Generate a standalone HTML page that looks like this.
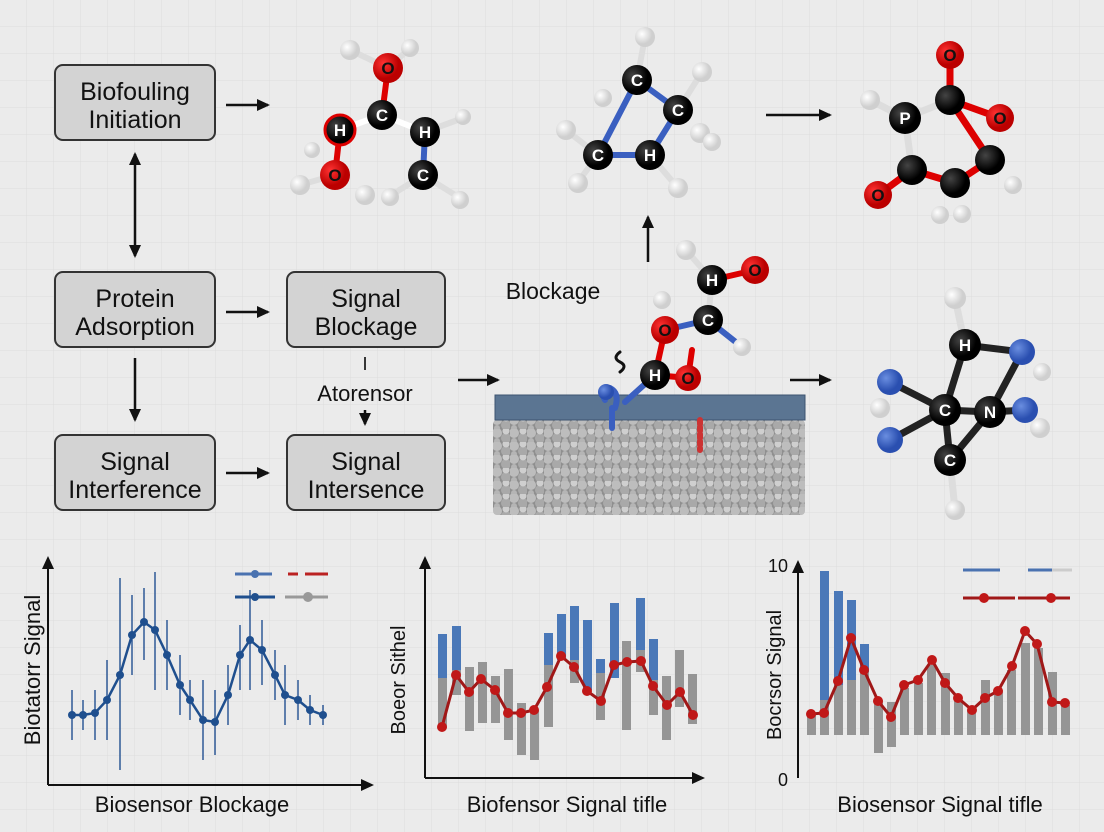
<!DOCTYPE html>
<html><head><meta charset="utf-8"><style>
html,body{margin:0;padding:0;background:#ebebeb}
svg{display:block}
text{font-family:"Liberation Sans",sans-serif;fill:#111}
.w{fill:#fff}
</style></head><body>
<svg width="1104" height="832" viewBox="0 0 1104 832" xmlns="http://www.w3.org/2000/svg">
<defs>
<pattern id="g" width="27" height="27" patternUnits="userSpaceOnUse"><path d="M27 0V27H0" fill="none" stroke="#dcdcdc" stroke-width="1"/></pattern>
<marker id="ah" markerWidth="14" markerHeight="12" refX="11" refY="6" orient="auto" markerUnits="userSpaceOnUse"><path d="M0,0 L13,6 L0,12 z" fill="#111"/></marker>
<radialGradient id="gw" cx="35%" cy="35%"><stop offset="0" stop-color="#fff"/><stop offset="1" stop-color="#cfcfcf"/></radialGradient>
<radialGradient id="gr" cx="35%" cy="35%"><stop offset="0" stop-color="#f33"/><stop offset="1" stop-color="#b00"/></radialGradient>
<radialGradient id="gb" cx="35%" cy="35%"><stop offset="0" stop-color="#6a8ee0"/><stop offset="1" stop-color="#2a4fb0"/></radialGradient>
<radialGradient id="gk" cx="35%" cy="35%"><stop offset="0" stop-color="#444"/><stop offset="1" stop-color="#000"/></radialGradient>
<pattern id="pb" width="17" height="13" patternUnits="userSpaceOnUse"><rect width="17" height="13" fill="#8f8f8f"/><circle cx="4" cy="4" r="5" fill="#bdbdbd"/><circle cx="13" cy="9" r="5" fill="#a9a9a9"/><circle cx="13" cy="2" r="3.5" fill="#cfcfcf"/><circle cx="4" cy="12" r="3" fill="#b5b5b5"/></pattern>
</defs>
<rect width="1104" height="832" fill="#ebebeb"/>
<rect width="1104" height="832" fill="url(#g)"/>

<g stroke="#333" stroke-width="2" fill="#d3d3d3">
<rect x="55" y="65" width="160" height="75" rx="8"/>
<rect x="55" y="272" width="160" height="75" rx="8"/>
<rect x="287" y="272" width="158" height="75" rx="8"/>
<rect x="55" y="435" width="160" height="75" rx="8"/>
<rect x="287" y="435" width="158" height="75" rx="8"/>
</g>
<g font-size="25" text-anchor="middle">
<text x="135" y="100">Biofouling</text><text x="135" y="128">Initiation</text>
<text x="135" y="307">Protein</text><text x="135" y="335">Adsorption</text>
<text x="366" y="307">Signal</text><text x="366" y="335">Blockage</text>
<text x="135" y="470">Signal</text><text x="135" y="498">Interference</text>
<text x="366" y="470">Signal</text><text x="366" y="498">Intersence</text>
<text x="365" y="401" font-size="22">Atorensor</text>
<text x="365" y="370" font-size="18">I</text>
<text x="553" y="299" font-size="23">Blockage</text>
</g>

<g stroke="#111" stroke-width="2.5" fill="none" marker-end="url(#ah)">
<line x1="226" y1="105" x2="268" y2="105"/>
<line x1="135" y1="200" x2="135" y2="256"/>
<line x1="135" y1="200" x2="135" y2="154"/>
<line x1="226" y1="312" x2="268" y2="312"/>
<line x1="135" y1="358" x2="135" y2="420"/>
<line x1="226" y1="473" x2="268" y2="473"/>
<line x1="365" y1="410" x2="365" y2="424"/>
<line x1="458" y1="380" x2="498" y2="380"/>
<line x1="648" y1="262" x2="648" y2="217"/>
<line x1="766" y1="115" x2="830" y2="115"/>
<line x1="790" y1="380" x2="830" y2="380"/>
</g>

<rect x="493" y="420" width="312" height="95" fill="url(#pb)" rx="4"/>
<rect x="495" y="395" width="310" height="25" fill="#5b7592" stroke="#3d5470"/>

<g stroke-width="6" stroke-linecap="round">
<line x1="388" y1="68" x2="382" y2="115" stroke="#d00"/>
<line x1="382" y1="115" x2="340" y2="130" stroke="#fff"/>
<line x1="382" y1="115" x2="425" y2="132" stroke="#fff"/>
<line x1="340" y1="130" x2="335" y2="175" stroke="#d00"/>
<line x1="425" y1="132" x2="423" y2="175" stroke="#3a5fc0"/>
<line x1="388" y1="68" x2="350" y2="50" stroke="#ddd"/>
<line x1="388" y1="68" x2="410" y2="48" stroke="#ddd"/>
<line x1="335" y1="175" x2="300" y2="185" stroke="#ddd"/>
<line x1="423" y1="175" x2="390" y2="196" stroke="#ddd"/>
<line x1="423" y1="175" x2="460" y2="198" stroke="#ddd"/>
<line x1="425" y1="132" x2="463" y2="118" stroke="#ddd"/>
</g>
<circle cx="350" cy="50" r="10" fill="url(#gw)"/><circle cx="410" cy="48" r="9" fill="url(#gw)"/>
<circle cx="300" cy="185" r="10" fill="url(#gw)"/><circle cx="365" cy="195" r="10" fill="url(#gw)"/>
<circle cx="390" cy="197" r="9" fill="url(#gw)"/><circle cx="460" cy="200" r="9" fill="url(#gw)"/>
<circle cx="463" cy="117" r="8" fill="url(#gw)"/><circle cx="312" cy="150" r="8" fill="url(#gw)"/>
<circle cx="388" cy="68" r="15" fill="url(#gr)"/>
<circle cx="382" cy="115" r="15" fill="url(#gk)"/>
<circle cx="340" cy="130" r="15" fill="url(#gk)" stroke="#d00" stroke-width="3"/>
<circle cx="425" cy="132" r="15" fill="url(#gk)"/>
<circle cx="335" cy="175" r="15" fill="url(#gr)"/>
<circle cx="423" cy="175" r="15" fill="url(#gk)"/>
<g font-size="17" font-weight="bold" text-anchor="middle">
<text x="388" y="74">O</text><text x="382" y="121" class="w">C</text><text x="340" y="136" class="w">H</text>
<text x="425" y="138" class="w">H</text><text x="335" y="181">O</text><text x="423" y="181" class="w">C</text>
</g>

<g stroke-width="6" stroke-linecap="round">
<line x1="637" y1="80" x2="678" y2="110" stroke="#3a5fc0"/>
<line x1="678" y1="110" x2="650" y2="155" stroke="#3a5fc0"/>
<line x1="650" y1="155" x2="598" y2="155" stroke="#3a5fc0"/>
<line x1="637" y1="80" x2="598" y2="155" stroke="#3a5fc0"/>
<line x1="637" y1="80" x2="645" y2="37" stroke="#ddd"/>
<line x1="678" y1="110" x2="702" y2="72" stroke="#ddd"/>
<line x1="598" y1="155" x2="566" y2="130" stroke="#ddd"/>
<line x1="598" y1="155" x2="578" y2="182" stroke="#ddd"/>
<line x1="650" y1="155" x2="678" y2="188" stroke="#ddd"/>
</g>
<circle cx="645" cy="37" r="10" fill="url(#gw)"/><circle cx="603" cy="98" r="9" fill="url(#gw)"/>
<circle cx="702" cy="72" r="10" fill="url(#gw)"/><circle cx="700" cy="133" r="10" fill="url(#gw)"/>
<circle cx="712" cy="142" r="9" fill="url(#gw)"/><circle cx="566" cy="130" r="10" fill="url(#gw)"/>
<circle cx="578" cy="183" r="10" fill="url(#gw)"/><circle cx="678" cy="188" r="10" fill="url(#gw)"/>
<circle cx="637" cy="80" r="15" fill="url(#gk)"/><circle cx="678" cy="110" r="15" fill="url(#gk)"/>
<circle cx="650" cy="155" r="15" fill="url(#gk)"/><circle cx="598" cy="155" r="15" fill="url(#gk)"/>
<g font-size="17" font-weight="bold" text-anchor="middle">
<text x="637" y="86" class="w">C</text><text x="678" y="116" class="w">C</text>
<text x="650" y="161" class="w">H</text><text x="598" y="161" class="w">C</text>
</g>

<g stroke-width="7" stroke-linecap="round">
<line x1="905" y1="118" x2="950" y2="100" stroke="#ddd"/>
<line x1="950" y1="100" x2="950" y2="55" stroke="#d00"/>
<line x1="950" y1="100" x2="990" y2="160" stroke="#d00"/>
<line x1="950" y1="100" x2="1000" y2="118" stroke="#d00"/>
<line x1="990" y1="160" x2="955" y2="183" stroke="#d00"/>
<line x1="955" y1="183" x2="912" y2="170" stroke="#d00"/>
<line x1="912" y1="170" x2="905" y2="118" stroke="#ddd"/>
<line x1="912" y1="170" x2="878" y2="195" stroke="#d00"/>
<line x1="905" y1="118" x2="870" y2="100" stroke="#ddd"/>
</g>
<circle cx="870" cy="100" r="10" fill="url(#gw)"/><circle cx="940" cy="215" r="9" fill="url(#gw)"/>
<circle cx="962" cy="214" r="9" fill="url(#gw)"/><circle cx="1013" cy="185" r="9" fill="url(#gw)"/>
<circle cx="950" cy="55" r="14" fill="url(#gr)"/><circle cx="1000" cy="118" r="14" fill="url(#gr)"/>
<circle cx="878" cy="195" r="14" fill="url(#gr)"/>
<circle cx="905" cy="118" r="16" fill="url(#gk)"/><circle cx="950" cy="100" r="15" fill="url(#gk)"/>
<circle cx="990" cy="160" r="15" fill="url(#gk)"/><circle cx="955" cy="183" r="15" fill="url(#gk)"/>
<circle cx="912" cy="170" r="15" fill="url(#gk)"/>
<g font-size="17" font-weight="bold" text-anchor="middle">
<text x="905" y="124" class="w">P</text><text x="950" y="61">O</text><text x="1000" y="124">O</text><text x="878" y="201">O</text>
</g>

<g stroke-width="6" stroke-linecap="round" fill="none">
<line x1="712" y1="280" x2="755" y2="270" stroke="#d00"/>
<line x1="712" y1="280" x2="708" y2="320" stroke="#ddd"/>
<line x1="708" y1="320" x2="665" y2="330" stroke="#3a5fc0"/>
<line x1="708" y1="320" x2="742" y2="347" stroke="#3a5fc0"/>
<line x1="665" y1="330" x2="655" y2="375" stroke="#d00"/>
<line x1="655" y1="375" x2="688" y2="378" stroke="#d00"/>
<line x1="688" y1="378" x2="692" y2="350" stroke="#d00"/>
<line x1="655" y1="375" x2="625" y2="402" stroke="#3a5fc0"/>
<line x1="712" y1="280" x2="686" y2="250" stroke="#ddd"/>
<path d="M605 400 q-8 -15 5 -12 q10 5 5 20" stroke="#3a5fc0"/>
<path d="M612 408 v20" stroke="#3a5fc0"/>
<path d="M700 420 v30" stroke="#c33" stroke-dasharray="4 3"/>
<path d="M620 352 q-8 6 0 10 q8 4 0 10" stroke="#111" stroke-width="3"/>
</g>
<circle cx="686" cy="250" r="10" fill="url(#gw)"/><circle cx="742" cy="347" r="9" fill="url(#gw)"/>
<circle cx="662" cy="300" r="9" fill="url(#gw)"/>
<circle cx="606" cy="392" r="8" fill="url(#gb)"/>
<circle cx="755" cy="270" r="14" fill="url(#gr)"/><circle cx="665" cy="330" r="14" fill="url(#gr)"/>
<circle cx="688" cy="378" r="13" fill="url(#gr)"/>
<circle cx="712" cy="280" r="15" fill="url(#gk)"/><circle cx="708" cy="320" r="15" fill="url(#gk)"/>
<circle cx="655" cy="375" r="15" fill="url(#gk)"/>
<g font-size="17" font-weight="bold" text-anchor="middle">
<text x="712" y="286" class="w">H</text><text x="755" y="276">O</text><text x="708" y="326" class="w">C</text>
<text x="665" y="336">O</text><text x="655" y="381" class="w">H</text><text x="688" y="384">O</text>
</g>

<g stroke-width="7" stroke-linecap="round">
<line x1="965" y1="345" x2="945" y2="410" stroke="#222"/>
<line x1="965" y1="345" x2="1022" y2="352" stroke="#222"/>
<line x1="945" y1="410" x2="990" y2="412" stroke="#222"/>
<line x1="945" y1="410" x2="950" y2="460" stroke="#222"/>
<line x1="990" y1="412" x2="950" y2="460" stroke="#222"/>
<line x1="1022" y1="352" x2="990" y2="412" stroke="#222"/>
<line x1="990" y1="412" x2="1025" y2="410" stroke="#222"/>
<line x1="945" y1="410" x2="890" y2="382" stroke="#222"/>
<line x1="945" y1="410" x2="890" y2="440" stroke="#222"/>
<line x1="965" y1="345" x2="955" y2="298" stroke="#ddd"/>
<line x1="950" y1="460" x2="955" y2="510" stroke="#ddd"/>
</g>
<circle cx="955" cy="298" r="11" fill="url(#gw)"/><circle cx="880" cy="408" r="10" fill="url(#gw)"/>
<circle cx="1040" cy="428" r="10" fill="url(#gw)"/><circle cx="955" cy="510" r="10" fill="url(#gw)"/>
<circle cx="1042" cy="372" r="9" fill="url(#gw)"/>
<circle cx="890" cy="382" r="13" fill="url(#gb)"/><circle cx="1022" cy="352" r="13" fill="url(#gb)"/>
<circle cx="1025" cy="410" r="13" fill="url(#gb)"/><circle cx="890" cy="440" r="13" fill="url(#gb)"/>
<circle cx="965" cy="345" r="16" fill="url(#gk)"/><circle cx="945" cy="410" r="16" fill="url(#gk)"/>
<circle cx="990" cy="412" r="16" fill="url(#gk)"/><circle cx="950" cy="460" r="16" fill="url(#gk)"/>
<g font-size="17" font-weight="bold" text-anchor="middle">
<text x="965" y="351" class="w">H</text><text x="945" y="416" class="w">C</text>
<text x="990" y="418" class="w">N</text><text x="950" y="466" class="w">C</text>
</g>

<g stroke="#111" stroke-width="2" fill="none">
<line x1="48" y1="785" x2="48" y2="558" marker-end="url(#ah)"/>
<line x1="48" y1="785" x2="372" y2="785" marker-end="url(#ah)"/>
</g>
<text x="40" y="670" font-size="22" text-anchor="middle" transform="rotate(-90 40 670)">Biotatorr Signal</text>
<text x="192" y="812" font-size="22" text-anchor="middle">Biosensor Blockage</text>
<g stroke="#2e5a96" stroke-width="1.5">
<line x1="72" y1="690" x2="72" y2="740"/><line x1="83" y1="700" x2="83" y2="730"/><line x1="95" y1="690" x2="95" y2="740"/>
<line x1="107" y1="660" x2="107" y2="740"/><line x1="120" y1="578" x2="120" y2="770"/><line x1="132" y1="595" x2="132" y2="675"/>
<line x1="144" y1="588" x2="144" y2="660"/><line x1="155" y1="572" x2="155" y2="690"/><line x1="167" y1="620" x2="167" y2="690"/>
<line x1="180" y1="655" x2="180" y2="715"/><line x1="190" y1="680" x2="190" y2="720"/><line x1="203" y1="680" x2="203" y2="760"/>
<line x1="215" y1="690" x2="215" y2="755"/><line x1="228" y1="665" x2="228" y2="725"/><line x1="240" y1="625" x2="240" y2="690"/>
<line x1="250" y1="590" x2="250" y2="690"/><line x1="262" y1="620" x2="262" y2="685"/><line x1="275" y1="650" x2="275" y2="700"/>
<line x1="285" y1="665" x2="285" y2="725"/><line x1="298" y1="680" x2="298" y2="720"/><line x1="310" y1="695" x2="310" y2="725"/>
<line x1="323" y1="705" x2="323" y2="725"/>
</g>
<polyline fill="none" stroke="#1f4f8e" stroke-width="2.5" points="72,715 83,715 95,713 107,700 120,675 132,635 144,622 155,630 167,655 180,685 190,700 203,720 215,722 228,695 240,655 250,640 262,650 275,675 285,695 298,700 310,710 323,715"/>
<g fill="#1f4f8e">
<circle cx="72" cy="715" r="4"/><circle cx="83" cy="715" r="4"/><circle cx="95" cy="713" r="4"/><circle cx="107" cy="700" r="4"/><circle cx="120" cy="675" r="4"/><circle cx="132" cy="635" r="4"/><circle cx="144" cy="622" r="4"/><circle cx="155" cy="630" r="4"/><circle cx="167" cy="655" r="4"/><circle cx="180" cy="685" r="4"/><circle cx="190" cy="700" r="4"/><circle cx="203" cy="720" r="4"/><circle cx="215" cy="722" r="4"/><circle cx="228" cy="695" r="4"/><circle cx="240" cy="655" r="4"/><circle cx="250" cy="640" r="4"/><circle cx="262" cy="650" r="4"/><circle cx="275" cy="675" r="4"/><circle cx="285" cy="695" r="4"/><circle cx="298" cy="700" r="4"/><circle cx="310" cy="710" r="4"/><circle cx="323" cy="715" r="4"/>
</g>
<g stroke-width="3">
<line x1="235" y1="574" x2="272" y2="574" stroke="#4a72b0"/><circle cx="255" cy="574" r="4" fill="#4a72b0"/>
<line x1="288" y1="574" x2="298" y2="574" stroke="#b22"/><line x1="305" y1="574" x2="328" y2="574" stroke="#b22"/>
<line x1="235" y1="597" x2="275" y2="597" stroke="#1f4f8e"/><circle cx="255" cy="597" r="4" fill="#1f4f8e"/>
<line x1="285" y1="597" x2="328" y2="597" stroke="#999"/><circle cx="308" cy="597" r="5" fill="#999"/>
</g>

<g stroke="#111" stroke-width="2" fill="none">
<line x1="425" y1="778" x2="425" y2="558" marker-end="url(#ah)"/>
<line x1="425" y1="778" x2="703" y2="778" marker-end="url(#ah)"/>
</g>
<text x="405" y="680" font-size="20" text-anchor="middle" transform="rotate(-90 405 680)">Boeor Sithel</text>
<text x="567" y="812" font-size="22" text-anchor="middle">Biofensor Signal tifle</text>
<g fill="#959595">
<rect x="438" y="678" width="9" height="50"/><rect x="452" y="670" width="9" height="25"/><rect x="465" y="667" width="9" height="64"/>
<rect x="478" y="662" width="9" height="61"/><rect x="491" y="676" width="9" height="47"/><rect x="504" y="669" width="9" height="71"/>
<rect x="517" y="703" width="9" height="52"/><rect x="530" y="710" width="9" height="50"/><rect x="544" y="665" width="9" height="62"/>
<rect x="570" y="660" width="9" height="23"/><rect x="596" y="673" width="9" height="47"/><rect x="622" y="641" width="9" height="89"/>
<rect x="636" y="650" width="9" height="22"/><rect x="649" y="680" width="9" height="35"/><rect x="662" y="676" width="9" height="64"/>
<rect x="675" y="650" width="9" height="57"/><rect x="688" y="674" width="9" height="50"/>
</g>
<g fill="#4a78b8">
<rect x="438" y="634" width="9" height="44"/><rect x="452" y="626" width="9" height="44"/><rect x="544" y="633" width="9" height="32"/>
<rect x="557" y="614" width="9" height="46"/><rect x="570" y="606" width="9" height="54"/><rect x="583" y="620" width="9" height="70"/>
<rect x="596" y="659" width="9" height="14"/><rect x="610" y="603" width="9" height="75"/><rect x="636" y="598" width="9" height="52"/>
<rect x="649" y="639" width="9" height="41"/>
</g>
<polyline fill="none" stroke="#a01818" stroke-width="3" points="442,727 456,675 469,692 481,679 495,690 508,713 521,713 534,710 547,687 561,656 574,667 587,691 601,701 614,665 627,662 641,661 653,686 667,705 680,692 693,715"/>
<g fill="#c01818">
<circle cx="442" cy="727" r="5"/><circle cx="456" cy="675" r="5"/><circle cx="469" cy="692" r="5"/><circle cx="481" cy="679" r="5"/><circle cx="495" cy="690" r="5"/><circle cx="508" cy="713" r="5"/><circle cx="521" cy="713" r="5"/><circle cx="534" cy="710" r="5"/><circle cx="547" cy="687" r="5"/><circle cx="561" cy="656" r="5"/><circle cx="574" cy="667" r="5"/><circle cx="587" cy="691" r="5"/><circle cx="601" cy="701" r="5"/><circle cx="614" cy="665" r="5"/><circle cx="627" cy="662" r="5"/><circle cx="641" cy="661" r="5"/><circle cx="653" cy="686" r="5"/><circle cx="667" cy="705" r="5"/><circle cx="680" cy="692" r="5"/><circle cx="693" cy="715" r="5"/>
</g>

<g stroke="#111" stroke-width="2" fill="none">
<line x1="798" y1="778" x2="798" y2="562" marker-end="url(#ah)"/>
</g>
<text x="778" y="572" font-size="18" text-anchor="middle">10</text>
<text x="783" y="786" font-size="18" text-anchor="middle">0</text>
<text x="781" y="675" font-size="20" text-anchor="middle" transform="rotate(-90 781 675)">Bocrsor Signal</text>
<text x="940" y="812" font-size="22" text-anchor="middle">Biosensor Signal tifle</text>
<g fill="#959595">
<rect x="807" y="715" width="9" height="20"/><rect x="820" y="700" width="9" height="35"/><rect x="834" y="685" width="9" height="50"/>
<rect x="847" y="680" width="9" height="55"/><rect x="860" y="672" width="9" height="63"/><rect x="874" y="700" width="9" height="53"/>
<rect x="887" y="702" width="9" height="45"/><rect x="900" y="688" width="9" height="47"/><rect x="914" y="683" width="9" height="52"/>
<rect x="927" y="665" width="9" height="70"/><rect x="941" y="673" width="9" height="62"/><rect x="954" y="700" width="9" height="35"/>
<rect x="967" y="710" width="9" height="25"/><rect x="981" y="680" width="9" height="55"/><rect x="994" y="690" width="9" height="45"/>
<rect x="1007" y="670" width="9" height="65"/><rect x="1021" y="643" width="9" height="92"/><rect x="1034" y="648" width="9" height="87"/>
<rect x="1048" y="672" width="9" height="63"/><rect x="1061" y="705" width="9" height="30"/>
</g>
<g fill="#4a78b8">
<rect x="820" y="571" width="9" height="129"/><rect x="834" y="591" width="9" height="94"/><rect x="847" y="600" width="9" height="80"/>
<rect x="860" y="644" width="9" height="28"/>
</g>
<polyline fill="none" stroke="#a01818" stroke-width="3" points="811,714 824,713 838,681 851,638 864,670 878,701 891,717 904,685 918,680 932,660 945,683 958,698 972,710 985,698 998,691 1012,666 1025,631 1037,644 1052,702 1065,703"/>
<g fill="#c01818">
<circle cx="811" cy="714" r="5"/><circle cx="824" cy="713" r="5"/><circle cx="838" cy="681" r="5"/><circle cx="851" cy="638" r="5"/><circle cx="864" cy="670" r="5"/><circle cx="878" cy="701" r="5"/><circle cx="891" cy="717" r="5"/><circle cx="904" cy="685" r="5"/><circle cx="918" cy="680" r="5"/><circle cx="932" cy="660" r="5"/><circle cx="945" cy="683" r="5"/><circle cx="958" cy="698" r="5"/><circle cx="972" cy="710" r="5"/><circle cx="985" cy="698" r="5"/><circle cx="998" cy="691" r="5"/><circle cx="1012" cy="666" r="5"/><circle cx="1025" cy="631" r="5"/><circle cx="1037" cy="644" r="5"/><circle cx="1052" cy="702" r="5"/><circle cx="1065" cy="703" r="5"/>
</g>
<g stroke-width="3">
<line x1="963" y1="570" x2="1000" y2="570" stroke="#4a72b0"/><line x1="1028" y1="570" x2="1052" y2="570" stroke="#4a72b0"/><line x1="1052" y1="570" x2="1072" y2="570" stroke="#ccc"/>
<line x1="963" y1="598" x2="1015" y2="598" stroke="#a01818"/><line x1="1018" y1="598" x2="1070" y2="598" stroke="#a01818"/>
<circle cx="984" cy="598" r="5" fill="#c01818"/><circle cx="1051" cy="598" r="5" fill="#c01818"/>
</g>
</svg>
</body></html>
